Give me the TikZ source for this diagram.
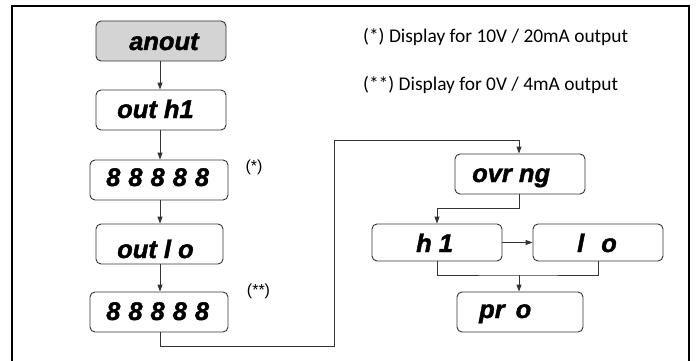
\documentclass[tikz,border=0pt]{standalone}
\usepackage{fontspec}
\setmainfont{Liberation Sans}
\newfontfamily\legendfont{Carlito}
\newfontfamily\dispfont[BoldItalicFeatures={FakeBold=1.6}]{Liberation Sans}
\usetikzlibrary{arrows.meta}
\tikzset{
  dispbox/.style={draw=black!80, line width=0.9pt, rounded corners=5pt, inner sep=0pt},
  disptext/.style={anchor=base west, inner sep=0pt, font=\dispfont\fontsize{25.5}{25.5}\selectfont\bfseries\itshape},
  conn/.style={draw=black!80, line width=0.9pt},
  arr/.style={conn, -{Triangle[length=7pt,width=5pt]}},
  star/.style={font=\fontsize{16}{16}\selectfont, inner sep=0pt},
  legend/.style={font=\legendfont\fontsize{19.4}{19.4}\selectfont, anchor=west, inner sep=0pt},
}
\newcommand\eights{8\hspace{8pt}8\hspace{8pt}8\hspace{8pt}8\hspace{8pt}8}
\begin{document}
\begin{tikzpicture}[x=1pt,y=-1pt]
\useasboundingbox (0,0) rectangle (696,361);
\fill[white] (0,0) rectangle (696,361);
% frame
\draw[line width=1.6pt] (12,361) -- (12,6);
\draw[line width=2pt] (11.2,6) -- (689,6);
\draw[line width=2.6pt] (689,4.7) -- (689,361);
% left column boxes
\node[dispbox, fill=black!17, minimum width=130pt, minimum height=40pt] (anout) at (161,41) {};
\node[dispbox, minimum width=130pt, minimum height=40pt] (outh1) at (161,110) {};
\node[dispbox, minimum width=138pt, minimum height=40pt] (d1) at (159,180) {};
\node[dispbox, minimum width=127pt, minimum height=40pt] (outlo) at (159.5,244) {};
\node[dispbox, minimum width=138pt, minimum height=40pt] (d2) at (159,312) {};
% left column texts
\node[disptext] (t-anout) at (129,50) {anout};
\node[disptext] (t-outh1) at (117,118) {out h1};
\node[disptext] (t-d1) at (106,186) {\eights};
\node[disptext] (t-outlo) at (117,258) {out l o};
\node[disptext] (t-d2) at (106,320) {\eights};
\node[star] (s1) at (254,167) {(*)};
\node[star] (s2) at (258.5,291) {(**)};
% right part boxes
\node[dispbox, minimum width=130pt, minimum height=40pt] (ovrng) at (520,174) {};
\node[dispbox, minimum width=130pt, minimum height=37pt] (h1) at (437,242.5) {};
\node[dispbox, minimum width=130pt, minimum height=37pt] (lo) at (598,242.5) {};
\node[dispbox, minimum width=126pt, minimum height=40pt] (pro) at (520,312) {};
% right part texts
\node[disptext] (t-ovrng) at (472,182) {ovr ng};
\node[disptext] (t-h1) at (416,252) {h 1};
\node[disptext] (t-lo) at (577,252) {l\hspace{17pt}o};
\node[disptext] (t-pro) at (479,318) {pr\hspace{11pt}o};
% legend
\node[legend] (l1) at (363,37) {(*) Display for 10V / 20mA output};
\node[legend] (l2) at (363,85) {(**) Display for 0V / 4mA output};
% connectors
\draw[arr] (anout.south -| 160,0) -- (outh1.north -| 160,0);
\draw[arr] (outh1.south -| 160,0) -- (d1.north -| 160,0);
\draw[arr] (d1.south -| 160,0) -- (outlo.north -| 160,0);
\draw[arr] (outlo.south -| 160,0) -- (d2.north -| 160,0);
\coordinate (j0) at (160,332);
\coordinate (j1) at (334,346);
\coordinate (j2) at (334,140);
\coordinate (j5) at (519,140);
\draw[arr] (j0) |- (j1) -- (j2) -- (j5) -- (j5 |- ovrng.north);
\coordinate (j3) at (437,208);
\draw[arr] (j5 |- ovrng.south) |- (j3) -- (j3 |- h1.north);
\draw[arr] (h1.east) -- (lo.west);
\coordinate (j4) at (519,275);
\draw[conn] (j3 |- h1.south) |- (j4) -| (lo.south);
\draw[arr] (j4) -- (j4 |- pro.north);
\end{tikzpicture}
\end{document}
